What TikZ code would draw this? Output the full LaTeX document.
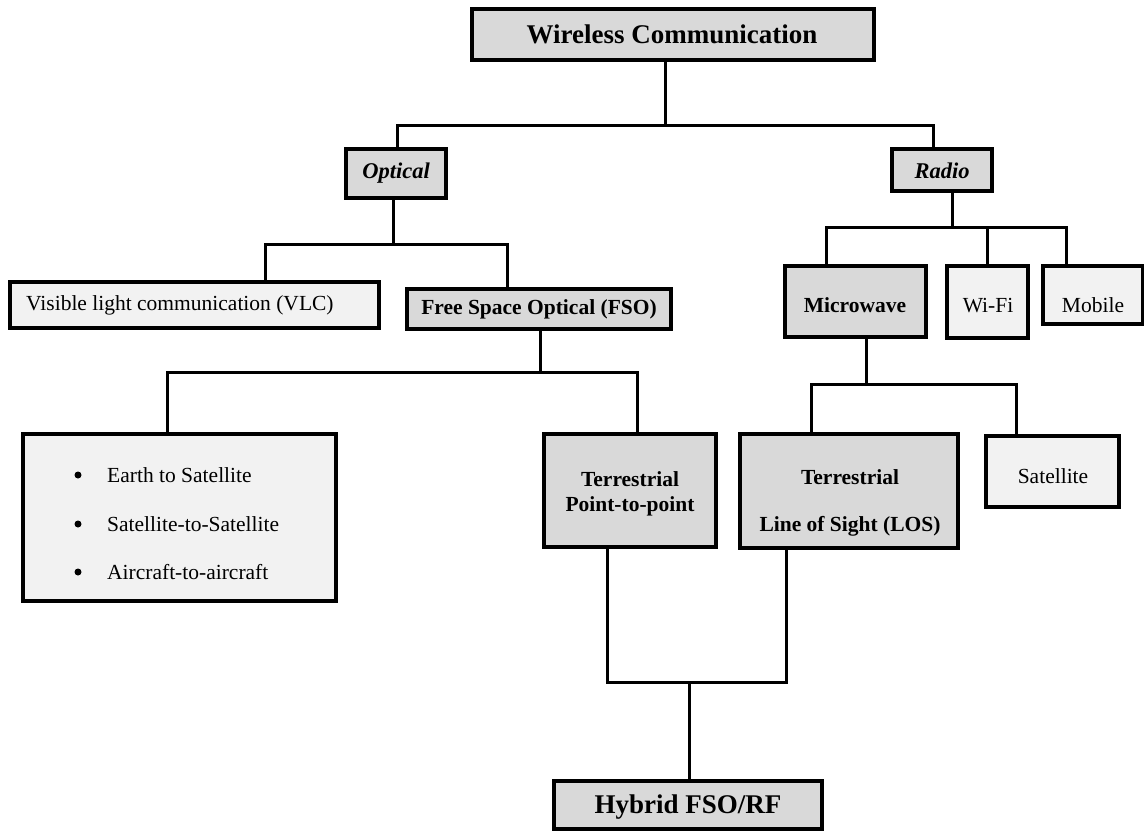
\documentclass[tikz,border=0pt]{standalone}
\usepackage{fontspec}
\setmainfont{Liberation Serif}
\definecolor{boxdark}{HTML}{D9D9D9}
\definecolor{boxlight}{HTML}{F2F2F2}
\tikzset{
  box/.style={draw=black, line width=3.2pt, inner sep=0pt, outer sep=0pt, anchor=north west},
  dark/.style={box, fill=boxdark},
  light/.style={box, fill=boxlight},
  wire/.style={line width=3pt, line join=miter},
  txt/.style={inner sep=0pt, anchor=base, font=\fontsize{21.5}{25}\selectfont},
  txtb/.style={txt, font=\bfseries\fontsize{21.5}{25}\selectfont},
  txtbi/.style={txt, font=\bfseries\itshape\fontsize{22.5}{26}\selectfont},
  ttl/.style={txt, font=\bfseries\fontsize{27}{30}\selectfont},
  bul/.style={circle, fill=black, inner sep=0pt, minimum size=7pt},
}
\begin{document}
\begin{tikzpicture}[x=1pt,y=-1pt]
\useasboundingbox (0,0) rectangle (1144,831);
% boxes
\node[dark,  minimum width=402, minimum height=51] (wc)  at (472,9) {};
\node[dark,  minimum width=100, minimum height=49] (opt) at (346,149) {};
\node[dark,  minimum width=100, minimum height=42] (rad) at (892,149) {};
\node[light, minimum width=369, minimum height=46] (vlc) at (10,282) {};
\node[dark,  minimum width=264, minimum height=40] (fso) at (407,289) {};
\node[dark,  minimum width=141, minimum height=71] (mic) at (785,266) {};
\node[light, minimum width=81,  minimum height=72] (wifi) at (947,266) {};
\node[light, minimum width=100, minimum height=58] (mob) at (1043,266) {};
\node[light, minimum width=313, minimum height=167] (lst) at (23,434) {};
\node[dark,  minimum width=172, minimum height=113] (tp) at (544,434) {};
\node[dark,  minimum width=218, minimum height=114] (los) at (740,434) {};
\node[light, minimum width=133, minimum height=71] (sat) at (986,436) {};
\node[dark,  minimum width=268, minimum height=48] (hyb) at (554,781) {};
% texts
\node[ttl] (wct) at (672,43) {Wireless Communication};
\node[txtbi] (optt) at (396,178) {Optical};
\node[txtbi] (radt) at (942,178) {Radio};
\node[txt, anchor=base west] (vlct) at (26,310) {Visible light communication (VLC)};
\node[txtb] (fsot) at (539,314) {Free Space Optical (FSO)};
\node[txtb] (mict) at (855,312) {Microwave};
\node[txt] (wifit) at (988,312) {Wi-Fi};
\node[txt] (mobt) at (1093,312) {Mobile};
\node[bul] (b1) at (78,475) {};
\node[bul] (b2) at (78,524) {};
\node[bul] (b3) at (78,572) {};
\node[txt, anchor=base west] (l1) at (107,482) {Earth to Satellite};
\node[txt, anchor=base west] (l2) at (107,531) {Satellite-to-Satellite};
\node[txt, anchor=base west] (l3) at (107,579) {Aircraft-to-aircraft};
\node[txtb] (tp1) at (630,486) {Terrestrial};
\node[txtb] (tp2) at (630,511) {Point-to-point};
\node[txtb] (los1) at (850,484) {Terrestrial};
\node[txtb] (los2) at (850,531) {Line of Sight (LOS)};
\node[txt] (satt) at (1053,483) {Satellite};
\node[ttl] (hybt) at (688,813) {Hybrid FSO/RF};
% junctions
\coordinate (j1) at (665,125);
\coordinate (j2) at (393,244);
\coordinate (j3) at (540,372);
\coordinate (j4) at (952,227);
\coordinate (j5) at (866,384);
\coordinate (j6) at (689,682);
% connectors
\draw[wire] (j1 |- wc.south) -- (j1);
\draw[wire] (397,0 |- opt.north) |- (933,0 |- j1) -- (933,0 |- rad.north);
\draw[wire] (j2 |- opt.south) -- (j2);
\draw[wire] (265,0 |- vlc.north) |- (507,0 |- j2) -- (507,0 |- fso.north);
\draw[wire] (j3 |- fso.south) -- (j3);
\draw[wire] (167,0 |- lst.north) |- (637,0 |- j3) -- (637,0 |- tp.north);
\draw[wire] (j4 |- rad.south) -- (j4);
\draw[wire] (826,0 |- mic.north) |- (1066,0 |- j4) -- (1066,0 |- mob.north);
\draw[wire] (987,0 |- j4) -- (987,0 |- wifi.north);
\draw[wire] (j5 |- mic.south) -- (j5);
\draw[wire] (811,0 |- los.north) |- (1016,0 |- j5) -- (1016,0 |- sat.north);
\draw[wire] (607,0 |- tp.south) |- (786,0 |- j6) -- (786,0 |- los.south);
\draw[wire] (j6) -- (j6 |- hyb.north);
\end{tikzpicture}
\end{document}
